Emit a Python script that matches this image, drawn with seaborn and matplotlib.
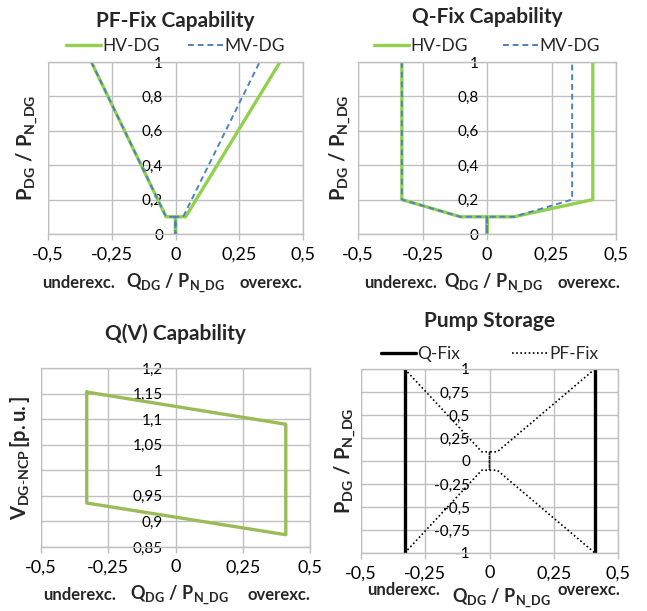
import matplotlib
matplotlib.use("Agg")
import matplotlib.pyplot as plt
import seaborn as sns
import numpy as np
import pandas as pd
from matplotlib.lines import Line2D

sns.set_theme(style="white")
plt.rcParams['font.family'] = ['Lato', 'DejaVu Sans']
plt.rcParams['mathtext.fontset'] = 'custom'
plt.rcParams['mathtext.rm'] = 'Lato'
plt.rcParams['mathtext.bf'] = 'Lato:bold'
plt.rcParams['mathtext.it'] = 'Lato:italic'

# ---------------- data ----------------
# PF-Fix Capability
pf_hv_q = [-0.33, -0.037, 0.0, 0.0, 0.0, 0.04, 0.41]
pf_hv_p = [1.0, 0.1, 0.1, 0.0, 0.1, 0.1, 1.0]
pf_mv_q = [-0.33, -0.037, 0.0, 0.0, 0.0, 0.03, 0.33]
pf_mv_p = [1.0, 0.1, 0.1, 0.0, 0.1, 0.1, 1.0]

# Q-Fix Capability
qf_hv_q = [-0.33, -0.33, -0.103, 0.0, 0.0, 0.0, 0.104, 0.41, 0.41]
qf_hv_p = [1.0, 0.2, 0.1, 0.1, 0.0, 0.1, 0.1, 0.2, 1.0]
qf_mv_q = [-0.33, -0.33, -0.103, 0.0, 0.0, 0.0, 0.104, 0.33, 0.33]
qf_mv_p = [1.0, 0.2, 0.1, 0.1, 0.0, 0.1, 0.1, 0.2, 1.0]

# Q(V) Capability
qv_q = [-0.33, 0.41, 0.41, -0.33, -0.33]
qv_v = [1.153, 1.09, 0.874, 0.936, 1.153]

# Pump Storage
ps_qfix_left_q = [-0.33, -0.33]
ps_qfix_left_p = [-1.0, 1.0]
ps_qfix_right_q = [0.41, 0.41]
ps_qfix_right_p = [-1.0, 1.0]
ps_pf_q = [-0.33, -0.03, 0.0, 0.0, 0.0, 0.03, 0.41]
ps_pf_p_upper = [1.0, 0.1, 0.1, -0.1, 0.1, 0.1, 1.0]
ps_pf_p_lower = [-1.0, -0.1, -0.1, -0.1, -0.1, -0.1, -1.0]

x_ticks = [-0.5, -0.25, 0.0, 0.25, 0.5]
p_ticks = [0.0, 0.2, 0.4, 0.6, 0.8, 1.0]
v_ticks = [0.85, 0.9, 0.95, 1.0, 1.05, 1.1, 1.15, 1.2]
ps_ticks = [-1.0, -0.75, -0.5, -0.25, 0.0, 0.25, 0.5, 0.75, 1.0]

GREEN = '#92D050'
GREEN2 = '#9BBB59'
BLUE = '#4F81BD'
GRID = '#BFBFBF'

TICK_FS = 13
TITLE_FS = 15
LEG_FS = 12.5
EXC_FS = 12
QLAB_FS = 13
PLAB_FS = 14.5


def fmt(v):
    return f"{v:g}".replace('.', ',')


fig = plt.figure(figsize=(6.47, 6.11), dpi=100)


def px_axes(x0, x1, y0, y1):
    W, H = 647, 611
    return fig.add_axes([x0 / W, 1 - y1 / H, (x1 - x0) / W, (y1 - y0) / H])


def style(ax, yticks, ylim, ypad):
    ax.set_xlim(-0.5, 0.5)
    ax.set_ylim(*ylim)
    ax.set_xticks(x_ticks)
    ax.set_xticklabels([fmt(t) for t in x_ticks], fontsize=TICK_FS)
    ax.set_yticks(yticks)
    ax.set_yticklabels([fmt(t) for t in yticks], fontsize=TICK_FS)
    ax.grid(True, color=GRID, linewidth=1)
    ax.set_axisbelow(True)
    ax.spines['left'].set_position(('data', 0))
    ax.spines['left'].set_visible(False)
    for s in ['top', 'right', 'bottom']:
        ax.spines[s].set_color(GRID)
        ax.spines[s].set_linewidth(1)
    ax.axvline(-0.5, color=GRID, lw=1, zorder=0.5)
    ax.tick_params(axis='y', length=0, pad=ypad, labelcolor='black')
    ax.tick_params(axis='x', length=4, width=1, color=GRID, direction='out', pad=5,
                   labelcolor='black', bottom=True)
    ax.set_xlabel('')
    ax.set_ylabel('')


def xlab(ax, xs, y, yq=None):
    if yq is None:
        yq = y
    ax.text(xs[0], y, 'underexc.', transform=ax.transAxes, ha='center', va='center',
            fontsize=EXC_FS, fontweight='bold')
    ax.text(xs[1], yq, r'$\mathbf{Q_{DG}\ /\ P_{N\_DG}}$', transform=ax.transAxes,
            ha='center', va='center', fontsize=QLAB_FS)
    ax.text(xs[2], y, 'overexc.', transform=ax.transAxes, ha='center', va='center',
            fontsize=EXC_FS, fontweight='bold')


P_LABEL = r'$\mathbf{P_{DG}\ /\ P_{N\_DG}}$'


def legend(ax, handles=None, labels=None, colsp=1.6, y=1.045):
    kw = dict(loc='lower center', bbox_to_anchor=(0.5, y), ncol=2, frameon=False,
              fontsize=LEG_FS, handlelength=2.0, columnspacing=colsp, handletextpad=0.1,
              borderaxespad=0, borderpad=0)
    if handles is None:
        ax.legend(**kw)
    else:
        ax.legend(handles, labels, **kw)


# ---- PF-Fix ----
ax1 = px_axes(48, 303, 62, 234)
sns.lineplot(x=pf_hv_q, y=pf_hv_p, sort=False, estimator=None, ax=ax1,
             color=GREEN, lw=2.4, label='HV-DG')
sns.lineplot(x=pf_mv_q, y=pf_mv_p, sort=False, estimator=None, ax=ax1,
             color=BLUE, lw=1.4, ls=(0, (3, 2)), label='MV-DG')
style(ax1, p_ticks, (0, 1), 9)
legend(ax1)
ax1.set_title('PF-Fix Capability', fontsize=TITLE_FS, fontweight='bold', pad=25)
ax1.text(-0.08, 0.5, P_LABEL, transform=ax1.transAxes, rotation=90, ha='center',
         va='center', fontsize=PLAB_FS)
xlab(ax1, (0.118, 0.498, 0.875), -0.285)

# ---- Q-Fix ----
ax2 = px_axes(358, 616, 62, 234)
sns.lineplot(x=qf_hv_q, y=qf_hv_p, sort=False, estimator=None, ax=ax2,
             color=GREEN, lw=2.4, label='HV-DG')
sns.lineplot(x=qf_mv_q, y=qf_mv_p, sort=False, estimator=None, ax=ax2,
             color=BLUE, lw=1.4, ls=(0, (3, 2)), label='MV-DG')
style(ax2, p_ticks, (0, 1), 6)
legend(ax2, colsp=2.0)
ax2.set_title('Q-Fix Capability', fontsize=TITLE_FS, fontweight='bold', pad=28)
ax2.text(-0.07, 0.5, P_LABEL, transform=ax2.transAxes, rotation=90, ha='center',
         va='center', fontsize=PLAB_FS)
xlab(ax2, (0.165, 0.525, 0.895), -0.285)

# ---- Q(V) ----
ax3 = px_axes(41, 310, 368, 547)
sns.lineplot(x=qv_q, y=qv_v, sort=False, estimator=None, ax=ax3,
             color=GREEN2, lw=2.4)
style(ax3, v_ticks, (0.85, 1.2), 9)
ax3.set_title('Q(V) Capability', fontsize=TITLE_FS, fontweight='bold', pad=20)
ax3.text(-0.078, 0.5, r'$\mathbf{V_{DG\text{-}NCP}\,[p.u.]}$', transform=ax3.transAxes,
         rotation=90, ha='center', va='center', fontsize=PLAB_FS)
xlab(ax3, (0.145, 0.513, 0.885), -0.268)

# ---- Pump Storage ----
ax4 = px_axes(361, 618, 369, 553)
sns.lineplot(x=ps_qfix_left_q, y=ps_qfix_left_p, sort=False, estimator=None, ax=ax4,
             color='black', lw=2.4)
sns.lineplot(x=ps_qfix_right_q, y=ps_qfix_right_p, sort=False, estimator=None, ax=ax4,
             color='black', lw=2.4)
sns.lineplot(x=ps_pf_q, y=ps_pf_p_upper, sort=False, estimator=None, ax=ax4,
             color='black', lw=1.2, ls=(0, (1, 1.5)))
sns.lineplot(x=ps_pf_q, y=ps_pf_p_lower, sort=False, estimator=None, ax=ax4,
             color='black', lw=1.2, ls=(0, (1, 1.5)))
style(ax4, ps_ticks, (-1, 1), 14)
handles = [Line2D([], [], color='black', lw=2.4),
           Line2D([], [], color='black', lw=1.2, ls=(0, (1, 1.5)))]
legend(ax4, handles, ['Q-Fix', 'PF-Fix'], colsp=3.0, y=1.04)
ax4.set_title('Pump Storage', fontsize=TITLE_FS, fontweight='bold', pad=30)
ax4.text(-0.062, 0.5, P_LABEL, transform=ax4.transAxes, rotation=90, ha='center',
         va='center', fontsize=PLAB_FS)
xlab(ax4, (0.165, 0.545, 0.885), -0.20, -0.245)

fig.savefig('out.png', dpi=100)
